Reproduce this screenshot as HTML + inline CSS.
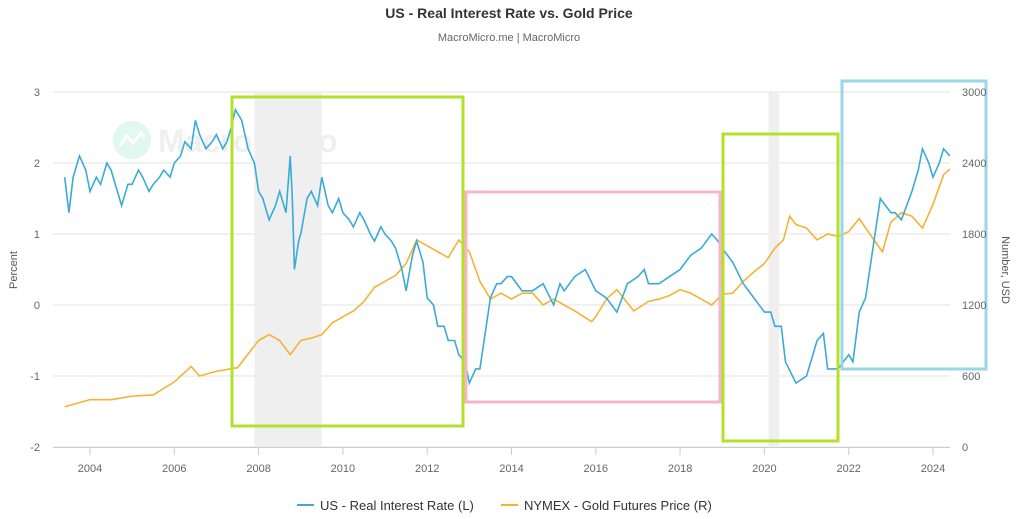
<!DOCTYPE html>
<html><head><meta charset="utf-8"><style>
body{margin:0;background:#fff;font-family:"Liberation Sans",sans-serif}
svg{display:block}
</style></head><body>
<svg id="c" width="1019" height="519">
<text x="509" y="18" text-anchor="middle" font-size="14" font-weight="bold" fill="#333">US - Real Interest Rate vs. Gold Price</text>
<text x="509" y="41" text-anchor="middle" font-size="11" fill="#666">MacroMicro.me | MacroMicro</text>
<g opacity="0.45">
<circle cx="132" cy="140" r="19" fill="#bdf0e2"/>
<polyline points="120,146 127,136 133,143 141,133 145,137" fill="none" stroke="#fff" stroke-width="3"/>
<text x="158" y="152" font-size="32" fill="#ddd" font-weight="bold">MacroMicro</text>
</g>
<g id="grid"></g><g id="rec"></g><g id="series"></g><g id="boxes"></g><g id="axes"></g>
<text transform="translate(17,270) rotate(-90)" text-anchor="middle" font-size="11" fill="#555">Percent</text>
<text transform="translate(1002,270) rotate(90)" text-anchor="middle" font-size="11" fill="#555">Number, USD</text>
<g><line x1="297" y1="505" x2="314" y2="505" stroke="#3aabd6" stroke-width="2"/><text x="320" y="510" font-size="13" fill="#333">US - Real Interest Rate (L)</text></g>
<g><line x1="501" y1="505" x2="518" y2="505" stroke="#f5b335" stroke-width="2"/><text x="524" y="510" font-size="13" fill="#333">NYMEX - Gold Futures Price (R)</text></g>
</svg>
<script>
const rateX=[2003.4,2003.5,2003.6,2003.75,2003.9,2004,2004.15,2004.25,2004.4,2004.5,2004.65,2004.75,2004.9,2005,2005.15,2005.25,2005.4,2005.5,2005.65,2005.75,2005.9,2006,2006.15,2006.25,2006.4,2006.5,2006.6,2006.75,2006.9,2007,2007.15,2007.25,2007.35,2007.45,2007.6,2007.75,2007.9,2008,2008.1,2008.25,2008.4,2008.5,2008.65,2008.75,2008.8,2008.85,2008.95,2009,2009.15,2009.25,2009.4,2009.5,2009.65,2009.75,2009.9,2010,2010.15,2010.25,2010.4,2010.5,2010.65,2010.75,2010.9,2011,2011.15,2011.25,2011.4,2011.5,2011.65,2011.75,2011.9,2012,2012.15,2012.25,2012.4,2012.5,2012.65,2012.75,2012.9,2013,2013.15,2013.25,2013.4,2013.5,2013.65,2013.75,2013.9,2014,2014.25,2014.5,2014.75,2015,2015.15,2015.25,2015.5,2015.75,2016,2016.25,2016.5,2016.75,2017,2017.15,2017.25,2017.5,2017.75,2018,2018.25,2018.5,2018.75,2018.9,2019,2019.25,2019.5,2019.75,2020,2020.15,2020.25,2020.4,2020.5,2020.75,2021,2021.25,2021.4,2021.5,2021.75,2022,2022.1,2022.25,2022.4,2022.5,2022.75,2023,2023.1,2023.25,2023.5,2023.65,2023.75,2023.9,2024,2024.15,2024.25,2024.4];
const rateY=[1.8,1.3,1.8,2.1,1.9,1.6,1.8,1.7,2.0,1.9,1.6,1.4,1.7,1.7,1.9,1.8,1.6,1.7,1.8,1.9,1.8,2.0,2.1,2.3,2.2,2.6,2.4,2.2,2.3,2.4,2.2,2.3,2.5,2.75,2.6,2.2,2.0,1.6,1.5,1.2,1.4,1.6,1.3,2.1,1.5,0.5,0.9,1.0,1.5,1.6,1.4,1.8,1.4,1.3,1.5,1.3,1.2,1.1,1.3,1.2,1.0,0.9,1.1,1.0,0.9,0.8,0.5,0.2,0.7,0.9,0.6,0.1,0.0,-0.3,-0.3,-0.5,-0.5,-0.7,-0.8,-1.1,-0.9,-0.9,-0.3,0.1,0.3,0.3,0.4,0.4,0.2,0.2,0.3,0.0,0.3,0.2,0.4,0.5,0.2,0.1,-0.1,0.3,0.4,0.5,0.3,0.3,0.4,0.5,0.7,0.8,1.0,0.9,0.8,0.6,0.3,0.1,-0.1,-0.1,-0.3,-0.3,-0.8,-1.1,-1.0,-0.5,-0.4,-0.9,-0.9,-0.7,-0.8,-0.1,0.1,0.5,1.5,1.3,1.3,1.2,1.6,1.9,2.2,2.0,1.8,2.0,2.2,2.1];
const goldX=[2003.4,2004,2004.5,2005,2005.5,2006,2006.4,2006.6,2007,2007.5,2008,2008.25,2008.5,2008.75,2009,2009.25,2009.5,2009.75,2010,2010.25,2010.5,2010.75,2011,2011.25,2011.5,2011.75,2012,2012.25,2012.5,2012.75,2013,2013.25,2013.5,2013.75,2014,2014.25,2014.5,2014.75,2015,2015.25,2015.5,2015.9,2016,2016.25,2016.5,2016.9,2017.25,2017.5,2017.75,2018,2018.25,2018.5,2018.75,2019,2019.25,2019.5,2019.75,2020,2020.25,2020.45,2020.6,2020.75,2021,2021.25,2021.5,2021.75,2022,2022.25,2022.5,2022.8,2023,2023.25,2023.5,2023.75,2024,2024.25,2024.4];
const goldY=[340,400,400,430,440,550,680,600,640,670,900,950,900,780,900,920,950,1050,1100,1150,1230,1350,1400,1450,1550,1750,1700,1650,1600,1750,1650,1400,1250,1300,1250,1300,1300,1200,1250,1200,1150,1060,1100,1250,1330,1150,1230,1250,1280,1330,1300,1250,1200,1290,1300,1400,1480,1550,1680,1750,1950,1880,1850,1750,1800,1780,1820,1930,1800,1650,1900,1980,1950,1850,2050,2300,2350];
const xTicks=[2004,2006,2008,2010,2012,2014,2016,2018,2020,2022,2024];
const leftTicks=[3,2,1,0,-1,-2];
const rightTicks=[3000,2400,1800,1200,600,0];
const recessions=[[2007.9,2009.5],[2020.1,2020.35]];
const X=v=>90+(v-2004)*42.15, YL=v=>305-v*71, YR=v=>447-v*355/3000;
const NS="http://www.w3.org/2000/svg";
function mk(t,a,p){const e=document.createElementNS(NS,t);for(const k in a)e.setAttribute(k,a[k]);document.getElementById(p).appendChild(e);return e;}
leftTicks.forEach(v=>{const g=mk('line',{x1:53,x2:950,y1:YL(v),y2:YL(v),stroke:'#e3e3e3'},'grid');


const t=mk('text',{x:40,y:YL(v)+4,'text-anchor':'end','font-size':11,fill:'#666'},'axes');t.textContent=v;

});
rightTicks.forEach(v=>{const t=mk('text',{x:962,y:YR(v)+4,'font-size':11,fill:'#666'},'axes');t.textContent=v;

});
mk('line',{x1:53,x2:950,y1:447.5,y2:447.5,stroke:'#ccc'},'axes');
xTicks.forEach(v=>{mk('line',{x1:X(v),x2:X(v),y1:447,y2:455,stroke:'#ccc'},'axes');
const t=mk('text',{x:X(v),y:472,'text-anchor':'middle','font-size':11,fill:'#666'},'axes');t.textContent=v;

});
recessions.forEach(r=>{const e=mk('rect',{x:X(r[0]),y:92,width:X(r[1])-X(r[0]),height:355,fill:'#efefef'},'rec');

});
const gp=mk('polyline',{points:goldX.map((x,i)=>X(x)+','+YR(goldY[i])).join(' '),fill:'none',stroke:'#f5b335','stroke-width':1.6},'series');


const rp=mk('polyline',{points:rateX.map((x,i)=>X(x)+','+YL(rateY[i])).join(' '),fill:'none',stroke:'#3aabd6','stroke-width':1.6},'series');


[[232,97,231,329,'#b5e02a'],[466,192,254,210,'#f4b6c8'],[723,134,115,307,'#b5e02a'],[842,81,144,288,'#9ad6ea']].forEach(b=>{
const e=mk('rect',{x:b[0],y:b[1],width:b[2],height:b[3],fill:'none',stroke:b[4],'stroke-width':3},'boxes');

});
</script>
</body></html>
